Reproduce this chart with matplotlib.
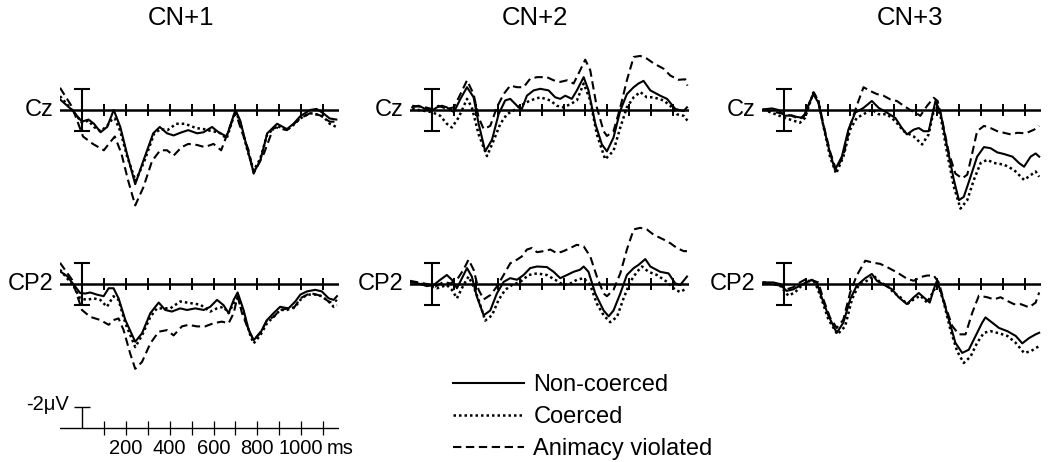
import matplotlib.pyplot as plt
from matplotlib.lines import Line2D

plt.rcParams['font.family'] = ['Liberation Sans', 'DejaVu Sans']

titles = ["CN+1", "CN+2", "CN+3"]
electrodes = ["Cz", "CP2"]
conditions = ["Non-coerced", "Coerced", "Animacy violated"]
tick_ms = [100, 200, 300, 400, 500, 600, 700, 800, 900, 1000, 1100]
scale_labels = [200, 400, 600, 800, 1000]

# ERP traces as (ms, microvolts); negative is plotted up
# Cz, CN+1
cz1_non = [(-100, -1.0), (-45, 0), (0, 1.1), (30, 0.9), (55, 1.3), (85, 2.1), (115, 1.6), (145, 0), (175, 1.6),
           (205, 4.1), (243, 7.0), (280, 4.8), (325, 2.2), (355, 1.6), (388, 2.2), (418, 2.4), (455, 2.1),
           (485, 1.9), (525, 2.2), (555, 2.1), (593, 1.6), (623, 2.1), (660, 2.5), (700, 0), (722, 1.0),
           (752, 3.5), (783, 5.9), (813, 4.8), (845, 2.2), (890, 1.3), (935, 1.8), (965, 1.3), (995, 0.6),
           (1040, 0), (1070, -0.1), (1100, 0.3), (1130, 0.8), (1160, 0.9)]
cz1_coe = [(-100, -1.3), (-45, 0), (0, 1.2), (30, 1.0), (55, 1.6), (85, 2.0), (115, 1.5), (140, 0.8), (150, 0.8),
           (175, 2.0), (205, 4.3), (245, 6.7), (285, 4.8), (330, 2.2), (360, 1.8), (390, 1.9), (430, 1.3),
           (470, 1.3), (520, 1.7), (555, 1.8), (593, 2.0), (625, 2.1), (660, 2.7), (700, 0.1), (722, 1.2),
           (752, 3.6), (783, 5.7), (813, 4.6), (845, 2.3), (890, 1.5), (935, 1.9), (965, 1.4), (995, 0.8),
           (1040, 0.3), (1070, 0.4), (1100, 0.6), (1130, 1.3), (1160, 1.6)]
cz1_ani = [(-100, -2.1), (-45, -0.3), (5, 2.5), (50, 3.2), (100, 3.8), (130, 3.0), (150, 2.5), (180, 4.1),
           (210, 6.6), (243, 9.0), (280, 7.3), (320, 4.8), (357, 3.8), (388, 3.8), (418, 4.3), (455, 3.5),
           (485, 3.2), (525, 3.3), (560, 3.5), (600, 3.2), (635, 3.8), (700, 0.2), (722, 1.6), (760, 3.8),
           (783, 6.0), (830, 4.1), (875, 1.6), (935, 1.9), (995, 0.8), (1040, 0.3), (1085, 0.5), (1130, 1.1),
           (1160, 1.1)]
# Cz, CN+2
cz2_non = [(-90, -0.25), (-60, -0.4), (-30, -0.1), (0, 0.05), (23, -0.25), (46, -0.4), (68, -0.25), (100, 0.2),
           (130, -1.05), (160, -2.15), (190, -1.2), (213, 1.3), (243, 3.9), (274, 2.8), (304, 0.4), (334, -0.9),
           (357, -1.05), (388, -0.4), (410, -0.1), (433, -1.35), (464, -1.85), (494, -2.0), (532, -1.85),
           (562, -1.2), (585, -1.05), (608, -1.35), (638, -1.05), (661, -1.85), (692, -3.1), (714, -1.85),
           (745, 1.3), (775, 3.25), (798, 3.9), (828, 2.6), (859, 0.05), (889, -1.5), (920, -2.15), (942, -2.5),
           (965, -2.75), (996, -1.85), (1041, -1.35), (1072, -1.05), (1110, -0.1), (1148, 0.1), (1163, -0.25)]
cz2_coe = [(-90, -0.1), (0, 0.2), (38, 0.55), (68, 1.3), (91, 1.65), (122, 0.7), (160, -1.05), (182, -0.25),
           (213, 2.3), (251, 4.35), (281, 2.9), (312, 1.3), (342, 0.4), (372, 0.05), (403, -0.4), (448, -0.9),
           (494, -1.2), (540, -0.9), (570, -0.4), (600, -0.25), (631, -0.55), (661, -0.9), (692, -2.5),
           (722, -0.9), (752, 2.3), (790, 4.65), (828, 3.85), (859, 1.65), (889, -0.25), (920, -1.2),
           (950, -1.7), (980, -1.2), (1011, -1.2), (1056, -0.9), (1087, -0.4), (1117, 0.4), (1148, 0.55),
           (1165, 1.0)]
cz2_ani = [(-90, -0.4), (-30, -0.25), (0, -0.1), (30, -0.4), (68, -0.1), (100, -0.25), (130, -1.5), (160, -2.8),
           (190, -1.5), (213, 0.7), (236, 1.8), (266, 1.5), (296, -0.25), (327, -1.5), (357, -2.3), (388, -2.15),
           (418, -2.15), (448, -2.95), (479, -3.1), (524, -3.1), (555, -2.8), (585, -2.65), (616, -2.8),
           (646, -2.5), (676, -3.75), (699, -4.75), (722, -3.75), (752, -0.25), (783, 2.0), (798, 2.45),
           (828, 2.0), (859, -0.25), (889, -2.8), (920, -5.0), (950, -5.1), (980, -4.85), (1011, -4.4),
           (1056, -3.9), (1087, -3.25), (1125, -2.85), (1155, -2.9), (1165, -2.3)]
# Cz, CN+3
cz3_non = [(-95, -0.05), (-55, -0.15), (-25, 0), (5, 0.55), (35, 0.5), (58, 0.65), (88, 0.75), (111, -0.4),
           (134, -1.5), (157, -0.7), (180, 1.5), (210, 4.05), (233, 5.65), (264, 4.4), (294, 1.85), (325, 0.25),
           (363, -0.2), (401, -0.85), (432, -0.2), (470, 0.25), (508, 0.75), (538, 1.7), (561, 2.3), (592, 1.85),
           (615, 1.7), (637, 2.0), (660, 2.0), (691, -0.85), (714, 0.25), (744, 3.45), (775, 6.6), (798, 8.5),
           (820, 8.2), (851, 6.3), (881, 4.4), (912, 3.5), (942, 3.6), (973, 4.0), (1003, 4.15), (1042, 4.4),
           (1072, 5.0), (1095, 5.35), (1125, 4.4), (1148, 4.1), (1164, 4.4)]
cz3_coe = [(-95, -0.05), (5, 0.75), (35, 0.95), (73, 1.2), (96, 0.75), (119, -0.7), (134, -1.65), (157, -0.85),
           (180, 1.5), (210, 4.4), (238, 6.0), (271, 4.4), (302, 1.85), (332, 0.75), (363, 0.4), (401, -0.05),
           (432, 0.4), (470, 0.4), (508, 1.05), (546, 2.0), (592, 2.5), (630, 3.25), (660, 2.3), (691, -0.7),
           (714, 0.55), (744, 4.05), (775, 7.25), (805, 9.3), (836, 8.5), (866, 6.6), (897, 5.0), (927, 4.7),
           (958, 5.0), (1003, 5.15), (1049, 5.65), (1095, 6.6), (1125, 6.15), (1148, 5.8), (1164, 6.3)]
cz3_ani = [(-95, -0.05), (5, 0.4), (35, 0.55), (73, 0.85), (96, 0.4), (119, -0.85), (137, -1.65), (157, -0.85),
           (180, 1.35), (210, 3.9), (238, 5.65), (271, 4.3), (302, 1.5), (332, -0.4), (363, -2.15), (393, -1.8),
           (424, -1.5), (454, -1.35), (485, -1.0), (515, -0.85), (546, -0.4), (576, 0), (599, 0.25), (622, 0.55),
           (653, -0.4), (683, -1.15), (701, -0.85), (721, 0.9), (752, 4.05), (782, 6.0), (813, 6.45), (836, 6.1),
           (859, 4.05), (881, 2.0), (912, 1.5), (942, 1.7), (973, 2.0), (1003, 2.15), (1034, 2.3), (1064, 2.15),
           (1103, 2.2), (1141, 1.85), (1164, 1.5)]
# CP2, CN+1
cp1_non = [(-100, -1.2), (-68, -0.75), (-38, 0.05), (-8, 0.85), (15, 0.9), (38, 0.8), (68, 1.0), (99, 1.15),
           (122, 0.4), (144, 0.4), (167, 1.35), (198, 3.4), (243, 5.45), (274, 4.65), (312, 2.75), (350, 1.75),
           (380, 2.45), (410, 2.6), (448, 2.3), (479, 2.45), (517, 2.3), (555, 2.45), (585, 2.15), (616, 1.5),
           (646, 2.0), (669, 2.75), (692, 1.5), (710, 0.8), (737, 2.45), (760, 4.3), (783, 5.3), (813, 4.65),
           (844, 3.4), (874, 2.75), (904, 2.15), (942, 2.3), (973, 1.65), (996, 1.0), (1026, 0.7), (1064, 0.55),
           (1094, 0.7), (1125, 1.35), (1148, 1.5), (1163, 1.15)]
cp1_coe = [(-100, -1.35), (-38, 0.2), (-8, 1.35), (23, 1.5), (53, 1.35), (84, 1.5), (114, 2.15), (144, 1.15),
           (167, 1.5), (198, 3.7), (243, 5.95), (274, 4.85), (312, 3.1), (342, 2.3), (372, 2.3), (403, 2.3),
           (448, 1.65), (494, 1.8), (540, 1.95), (585, 2.6), (616, 2.3), (646, 2.15), (669, 2.75), (692, 1.8),
           (710, 1.35), (737, 2.75), (768, 4.85), (783, 5.6), (813, 4.85), (844, 3.7), (874, 3.1), (904, 2.45),
           (935, 2.45), (973, 2.15), (996, 1.5), (1026, 1.0), (1064, 1.0), (1094, 1.15), (1125, 1.65),
           (1148, 2.15), (1163, 2.0)]
cp1_ani = [(-100, -2.0), (-45, -0.4), (0, 2.45), (38, 3.1), (84, 3.4), (122, 3.85), (144, 3.4), (167, 3.25),
           (190, 4.35), (220, 6.55), (243, 8.0), (274, 7.35), (312, 5.6), (350, 4.5), (388, 4.35), (418, 4.85),
           (456, 4.0), (486, 3.85), (524, 4.0), (562, 4.0), (600, 3.7), (638, 3.55), (669, 3.7), (692, 2.75),
           (710, 1.15), (730, 2.75), (760, 4.35), (783, 5.3), (821, 4.35), (844, 3.4), (874, 3.1), (904, 2.45),
           (942, 2.3), (965, 2.3), (996, 1.35), (1041, 0.85), (1087, 1.1), (1125, 1.65), (1148, 1.8), (1163, 1.5)]
# CP2, CN+2
cp2_non = [(-100, -0.2), (-53, 0), (-23, 0.2), (8, 0.1), (38, -0.4), (68, -0.85), (91, -0.4), (114, 0.4),
           (137, -0.55), (160, -1.5), (182, -0.7), (205, 1.2), (236, 2.95), (266, 2.5), (296, 0.9), (327, -0.2),
           (357, -0.55), (388, -0.4), (418, -0.85), (448, -1.5), (479, -1.65), (524, -1.6), (555, -1.15),
           (585, -0.55), (616, -0.85), (646, -1.15), (676, -1.35), (692, -1.65), (714, -1.15), (745, 0.9),
           (783, 2.5), (806, 3.05), (828, 2.5), (859, 0.9), (889, -0.85), (920, -1.5), (942, -1.8), (973, -2.35),
           (996, -1.65), (1041, -1.15), (1079, -1.0), (1110, -0.05), (1132, 0.1), (1163, -0.7)]
cp2_coe = [(-100, -0.2), (-23, 0.1), (23, 0.4), (68, 0.1), (91, 0.55), (114, 1.35), (144, 0.1), (167, -0.7),
           (190, 0.25), (213, 1.5), (243, 3.45), (274, 2.95), (304, 1.5), (334, 0.55), (365, 0.1), (403, -0.2),
           (441, -0.85), (479, -1.0), (524, -0.85), (562, -0.4), (600, 0.1), (631, -0.05), (661, -0.4),
           (692, -0.55), (722, 0.1), (752, 1.85), (783, 2.95), (813, 3.6), (844, 3.1), (874, 1.35), (904, -0.2),
           (935, -1.15), (958, -1.65), (988, -1.15), (1026, -0.85), (1072, -0.2), (1110, 0.55), (1132, 0.75),
           (1163, 0.4)]
cp2_ani = [(-100, -0.3), (-23, 0), (15, 0.25), (53, -0.2), (84, -0.05), (114, -0.4), (144, -1.35), (167, -2.3),
           (190, -1.35), (213, 0.55), (236, 1.45), (266, 1.05), (296, 0.25), (327, -0.85), (357, -1.95),
           (388, -2.3), (410, -2.6), (433, -3.25), (456, -3.4), (479, -3.0), (509, -3.1), (540, -3.25),
           (570, -2.9), (600, -3.1), (631, -3.4), (661, -3.7), (692, -3.55), (722, -2.6), (752, -0.7), (783, 0.9),
           (798, 1.15), (828, 0.55), (859, -1.0), (889, -3.25), (920, -5.15), (950, -5.3), (980, -5.15),
           (1011, -4.65), (1056, -4.2), (1087, -3.85), (1117, -3.4), (1148, -3.1), (1163, -3.1)]
# CP2, CN+3
cp3_non = [(-95, -0.15), (-49, -0.15), (-18, 0), (12, 0.65), (43, 0.5), (73, 0.15), (104, -0.15), (127, -0.4),
           (149, -0.15), (172, 1.25), (203, 3.0), (241, 4.6), (271, 3.65), (302, 1.45), (332, 0.15), (371, -0.55),
           (401, -0.95), (424, -0.3), (462, 0.15), (493, 0.5), (523, 1.25), (561, 1.9), (592, 1.25), (615, 0.85),
           (637, 1.25), (665, 1.75), (683, 0.5), (698, -0.3), (721, 1.1), (752, 3.35), (782, 5.55), (813, 6.5),
           (843, 6.2), (874, 4.9), (904, 3.65), (919, 3.15), (950, 3.65), (981, 4.15), (1019, 4.45), (1057, 4.9),
           (1087, 5.6), (1118, 5.1), (1148, 4.75), (1164, 4.6)]
cp3_coe = [(-95, -0.15), (-18, 0.15), (20, 1.1), (50, 0.8), (81, 0.15), (111, -0.3), (142, -0.15), (172, 1.45),
           (203, 3.35), (244, 4.75), (279, 4.0), (310, 1.45), (340, 0.15), (378, -0.3), (409, -0.8), (439, -0.15),
           (470, 0.15), (500, 0.8), (531, 1.25), (561, 1.9), (592, 1.45), (622, 1.1), (653, 1.75), (683, 0.65),
           (701, -0.15), (729, 1.75), (759, 4.3), (790, 6.35), (820, 7.45), (851, 6.85), (881, 5.55), (912, 4.6),
           (942, 4.45), (981, 4.65), (1019, 4.9), (1057, 5.55), (1095, 6.5), (1125, 6.35), (1164, 5.85)]
cp3_ani = [(-95, -0.15), (-18, 0.15), (12, 0.5), (43, 0.3), (73, -0.15), (104, -0.5), (134, -0.3), (157, -0.15),
           (180, 1.45), (210, 3.15), (241, 4.15), (271, 3.35), (302, 0.8), (332, -0.8), (371, -2.2), (409, -2.0),
           (439, -1.9), (470, -1.6), (515, -1.1), (561, -0.5), (592, -0.3), (622, -0.65), (653, -0.8), (683, -0.8),
           (706, -0.15), (736, 2.05), (767, 3.95), (798, 4.75), (828, 4.75), (859, 2.7), (889, 1.1), (927, 1.25),
           (958, 1.45), (988, 1.25), (1019, 1.6), (1049, 1.9), (1080, 1.9), (1118, 2.2), (1148, 1.75), (1164, 0.8)]

panels = [[(cz1_non, cz1_coe, cz1_ani), (cz2_non, cz2_coe, cz2_ani), (cz3_non, cz3_coe, cz3_ani)],
          [(cp1_non, cp1_coe, cp1_ani), (cp2_non, cp2_coe, cp2_ani), (cp3_non, cp3_coe, cp3_ani)]]

styles = [dict(ls='-', lw=1.5), dict(ls=(0, (1, 1.2)), lw=1.8), dict(ls=(0, (4, 2.2)), lw=1.5)]

W, H = 1050, 462
fig = plt.figure(figsize=(W / 100, H / 100), dpi=100)


def px_axes(left, top, right, bottom):
    return fig.add_axes([left / W, 1 - bottom / H, (right - left) / W, (bottom - top) / H])


PX_UV = 10.6  # pixels per microvolt
col_left = [60, 410, 762]
row_top = [40, 214]
title_x = [181, 535, 910]

for r, elec in enumerate(electrodes):
    for c in range(3):
        ax = px_axes(col_left[c], row_top[r], col_left[c] + 278.5, row_top[r] + 175)
        ax.set_xlim(-100, 1170)
        ax.set_ylim(105 / PX_UV, -70 / PX_UV)
        ax.axis('off')
        ax.plot([-100, 1170], [0, 0], color='black', lw=1.8)
        ax.vlines(tick_ms, -0.6, 0.6, color='black', lw=1.4)
        ax.vlines(0, -2, 2, color='black', lw=1.5)
        ax.hlines([-2, 2], -35, 35, color='black', lw=1.5)
        for trace, st in zip(panels[r][c], styles):
            t = [p[0] for p in trace]
            v = [p[1] for p in trace]
            ax.plot(t, v, color='black', **st)
        ax.text(-130, 0, elec, ha='right', va='center', fontsize=17)
        if r == 0:
            fig.text(title_x[c] / W, 1 - 18 / H, titles[c], ha='center', va='center', fontsize=18.5)

# calibration scale
sc = px_axes(60, 388, 338.5, 462)
sc.set_xlim(-100, 1170)
sc.set_ylim(34 / PX_UV, -40 / PX_UV)
sc.axis('off')
sc.plot([-100, 1170], [0, 0], color='black', lw=1.0)
sc.vlines(tick_ms, -0.65, 0.65, color='black', lw=0.9)
sc.vlines(0, -2, 0, color='black', lw=1.0)
sc.hlines(-2, -35, 35, color='black', lw=1.0)
sc.text(-60, -2.2, "-2μV", ha='right', va='center', fontsize=14.5)
for ms in scale_labels:
    sc.text(ms, 1.9, str(ms), ha='center', va='center', fontsize=14.5)
sc.text(1118, 1.9, "ms", ha='left', va='center', fontsize=14.5)

handles = [Line2D([], [], color='black', **st) for st in styles]
fig.legend(handles, conditions, loc='upper left', bbox_to_anchor=(453 / W, 1 - 374 / H), frameon=False,
           fontsize=17, handlelength=3.0, handletextpad=0.4, labelspacing=0.42, borderpad=0, borderaxespad=0)

fig.savefig("out.png", dpi=100, facecolor='white')
